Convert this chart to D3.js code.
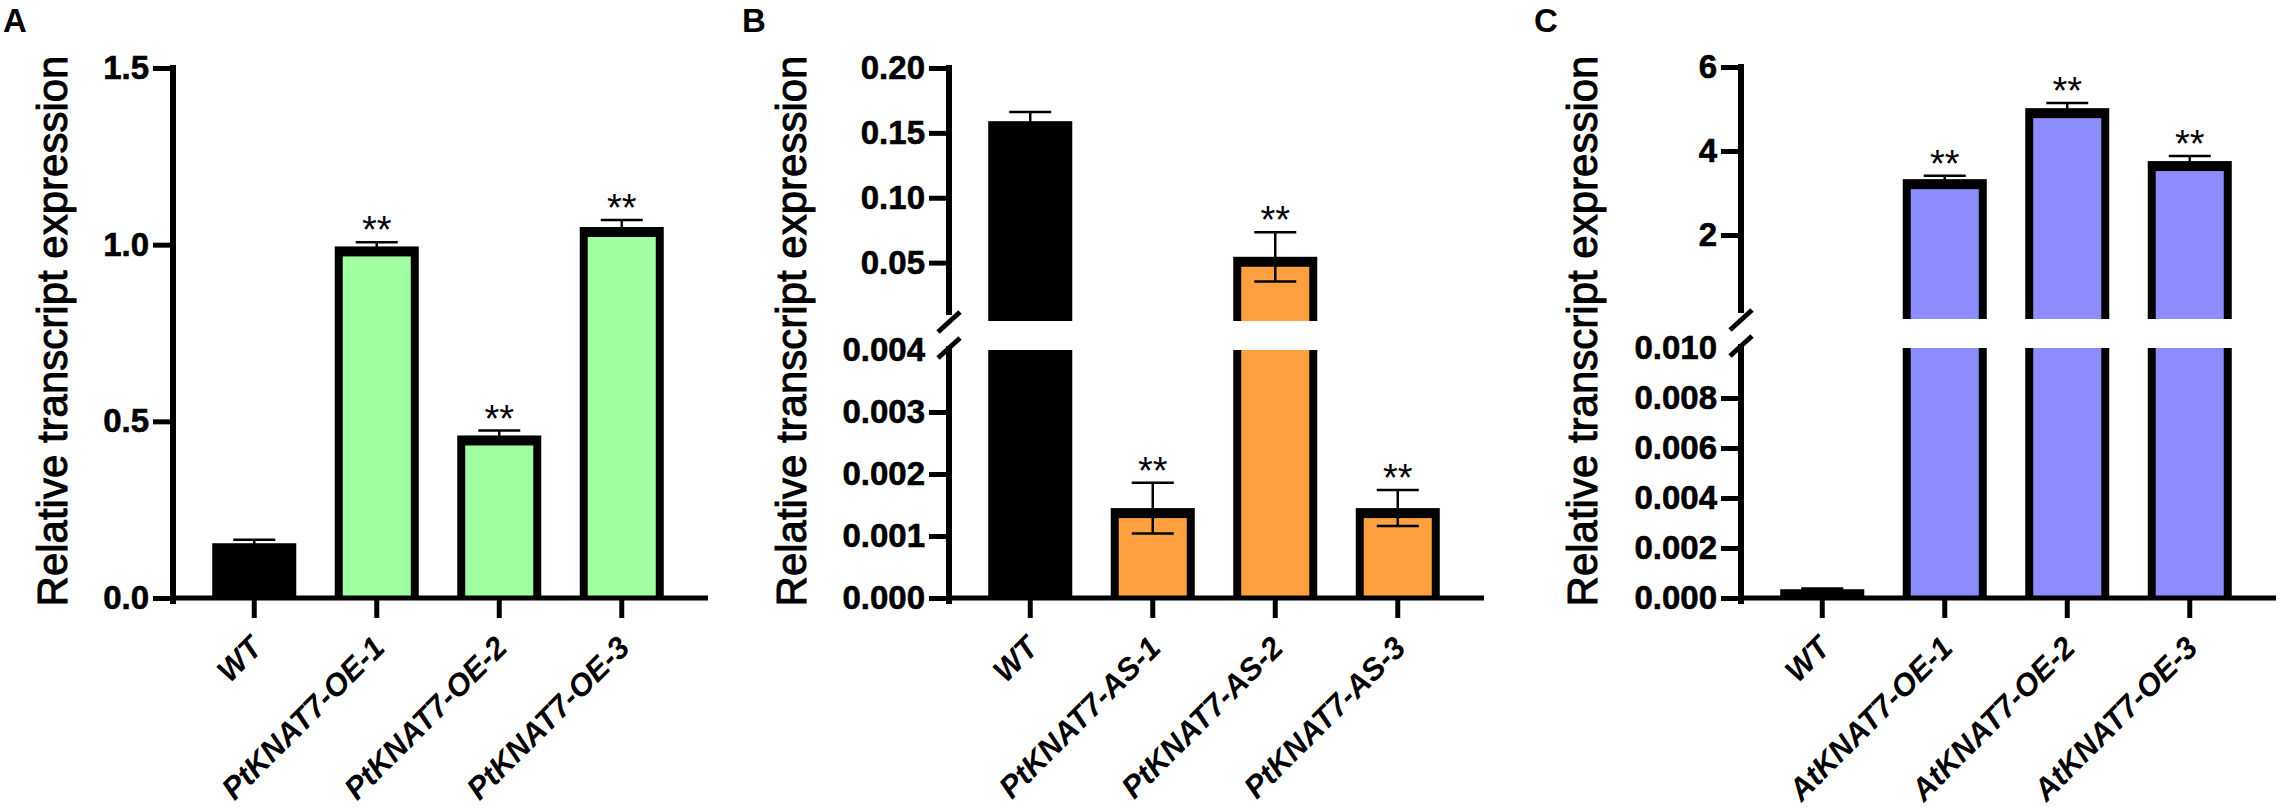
<!DOCTYPE html>
<html>
<head>
<meta charset="utf-8">
<script src="https://cdn.jsdelivr.net/npm/d3@7"></script>
<style>
  html, body { margin: 0; padding: 0; background: #fff; }
  svg { display: block; }
</style>
</head>
<body>
<div id="chart"></div>
<script>
// Panel A - PtKNAT7 overexpression
const catsA = ['WT', 'PtKNAT7-OE-1', 'PtKNAT7-OE-2', 'PtKNAT7-OE-3'];
const meansA = [0.155, 0.995, 0.46, 1.05];
const errsA = [0.01, 0.012, 0.014, 0.02];
const starsA = ['', '**', '**', '**'];
const ticksA = [0, 0.5, 1.0, 1.5];

// Panel B - PtKNAT7 antisense (broken axis)
const catsB = ['WT', 'PtKNAT7-AS-1', 'PtKNAT7-AS-2', 'PtKNAT7-AS-3'];
const meansB = [0.159, 0.00145, 0.0545, 0.00145];
const errsB = [0.007, 0.00041, 0.019, 0.00029];
const starsB = ['', '**', '**', '**'];
const ticksBLow = [0, 0.001, 0.002, 0.003, 0.004];
const ticksBHigh = [0.05, 0.10, 0.15, 0.20];

// Panel C - AtKNAT7 overexpression (broken axis)
const catsC = ['WT', 'AtKNAT7-OE-1', 'AtKNAT7-OE-2', 'AtKNAT7-OE-3'];
const meansC = [0.00035, 3.33, 5.02, 3.76];
const errsC = [0.00003, 0.08, 0.12, 0.12];
const starsC = ['', '**', '**', '**'];
const ticksCLow = [0, 0.002, 0.004, 0.006, 0.008, 0.010];
const ticksCHigh = [2, 4, 6];

const FONT = "'Liberation Sans', Arial, Helvetica, sans-serif";
const W = 2280, H = 812;
const BASE_Y = 598;
const AXIS_LEN = 535;

const panels = [
  {
    letter: 'A', letterX: 3, axisX: 173, titleX: 67,
    cats: catsA, means: meansA, errs: errsA, stars: starsA, color: '#a0ffa0',
    segments: [
      { domain: [0, 1.5], range: [BASE_Y, 68], ticks: ticksA, fmt: d3.format('.1f') },
    ],
  },
  {
    letter: 'B', letterX: 742, axisX: 949, titleX: 806,
    cats: catsB, means: meansB, errs: errsB, stars: starsB, color: '#ffa040',
    segments: [
      { domain: [0, 0.004], range: [BASE_Y, 350], ticks: ticksBLow, fmt: d3.format('.3f'), noTick: 0.004 },
      { domain: [0.005, 0.2], range: [321, 68], ticks: ticksBHigh, fmt: d3.format('.2f') },
    ],
  },
  {
    letter: 'C', letterX: 1534, axisX: 1741, titleX: 1597,
    cats: catsC, means: meansC, errs: errsC, stars: starsC, color: '#8c8cff',
    segments: [
      { domain: [0, 0.01], range: [BASE_Y, 348], ticks: ticksCLow, fmt: d3.format('.3f'), noTick: 0.01 },
      { domain: [0, 6], range: [319, 67], ticks: ticksCHigh, fmt: d3.format('d') },
    ],
  },
];

const svg = d3.select('#chart').append('svg')
  .attr('width', W).attr('height', H)
  .style('font-family', FONT);

svg.append('rect').attr('width', W).attr('height', H).attr('fill', '#fff');

function drawPanel(p) {
  const g = svg.append('g');
  const x0 = p.axisX + 20;

  // band scale: 84px bars on a 122.5px step
  const x = d3.scaleBand()
    .domain(p.cats)
    .range([x0, x0 + 490])
    .paddingInner(0.314)
    .paddingOuter(0.157);
  const bw = x.bandwidth();

  p.segments.forEach((seg) => {
    seg.scale = d3.scaleLinear().domain(seg.domain).range(seg.range);
  });

  // bars, one piece per axis segment
  p.segments.forEach((seg, i) => {
    const lowerMax = i > 0 ? p.segments[i - 1].domain[1] : -Infinity;
    p.cats.forEach((c, j) => {
      const v = p.means[j];
      if (v <= lowerMax) return;
      const realTop = v <= seg.domain[1];
      const yTop = seg.scale(Math.min(v, seg.domain[1]));
      const yBot = seg.range[0];
      const bx = x(c);
      g.append('rect')
        .attr('x', bx).attr('y', yTop)
        .attr('width', bw).attr('height', yBot - yTop)
        .attr('fill', '#000');
      if (j > 0) {
        const inTop = yTop + (realTop ? 10 : 0);
        g.append('rect')
          .attr('x', bx + 8).attr('y', inTop)
          .attr('width', bw - 16).attr('height', Math.max(0, yBot - inTop))
          .attr('fill', p.color);
      }
    });
  });

  // error bars and stars in the segment that holds the mean
  p.cats.forEach((c, j) => {
    const v = p.means[j], e = p.errs[j];
    const seg = p.segments.find((s, i) =>
      v <= s.domain[1] && (i === 0 || v > p.segments[i - 1].domain[1]));
    const cx = x(c) + bw / 2;
    const yHi = seg.scale(v + e), yLo = seg.scale(v - e);
    g.append('line').attr('x1', cx).attr('x2', cx).attr('y1', yHi).attr('y2', yLo)
      .attr('stroke', '#000').attr('stroke-width', 2.5);
    [yHi, yLo].forEach((yy) => {
      g.append('line').attr('x1', cx - bw / 4).attr('x2', cx + bw / 4)
        .attr('y1', yy).attr('y2', yy)
        .attr('stroke', '#000').attr('stroke-width', 2.5);
    });
    if (p.stars[j]) {
      g.append('text').attr('x', cx).attr('y', yHi + 1)
        .attr('text-anchor', 'middle')
        .attr('font-size', '38px')
        .text(p.stars[j]);
    }
  });

  // y axes
  p.segments.forEach((seg) => {
    const ax = g.append('g')
      .attr('transform', `translate(${p.axisX},0)`)
      .call(d3.axisLeft(seg.scale).tickValues(seg.ticks).tickSize(20).tickPadding(4).tickFormat(seg.fmt));
    ax.select('.domain').remove();
    ax.selectAll('.tick line').attr('stroke', '#000').attr('stroke-width', 5);
    ax.selectAll('.tick text')
      .attr('fill', '#000')
      .attr('font-family', FONT)
      .attr('font-size', '33px')
      .attr('font-weight', 'bold')
      .attr('stroke', '#000')
      .attr('stroke-width', 0.6);
    if (seg.noTick !== undefined) {
      ax.selectAll('.tick').filter((d) => Math.abs(d - seg.noTick) < 1e-9)
        .select('line').remove();
    }
  });

  // axis line(s) and break marks
  if (p.segments.length === 1) {
    const s = p.segments[0];
    g.append('line').attr('x1', p.axisX).attr('x2', p.axisX)
      .attr('y1', s.range[1] - 3).attr('y2', BASE_Y + 6)
      .attr('stroke', '#000').attr('stroke-width', 6);
  } else {
    const lo = p.segments[0], hi = p.segments[1];
    g.append('line').attr('x1', p.axisX).attr('x2', p.axisX)
      .attr('y1', hi.range[1] - 3).attr('y2', hi.range[0] - 6)
      .attr('stroke', '#000').attr('stroke-width', 6);
    g.append('line').attr('x1', p.axisX).attr('x2', p.axisX)
      .attr('y1', lo.range[1] - 4).attr('y2', BASE_Y + 6)
      .attr('stroke', '#000').attr('stroke-width', 6);
    [hi.range[0] + 1, lo.range[1] - 2].forEach((yy) => {
      g.append('line')
        .attr('x1', p.axisX - 11).attr('y1', yy + 10)
        .attr('x2', p.axisX + 11).attr('y2', yy - 10)
        .attr('stroke', '#000').attr('stroke-width', 5);
    });
  }

  // x axis
  const xa = g.append('g')
    .attr('transform', `translate(0,${BASE_Y})`)
    .call(d3.axisBottom(x).tickSize(20));
  xa.select('.domain').remove();
  xa.selectAll('.tick line').attr('stroke', '#000').attr('stroke-width', 5);
  xa.selectAll('.tick text')
    .attr('fill', '#000')
    .attr('font-family', FONT)
    .attr('font-size', '31px')
    .attr('font-weight', 'bold')
    .attr('font-style', 'italic')
    .attr('text-anchor', 'end')
    .attr('x', 0).attr('y', 0)
    .attr('dy', '0.35em')
    .attr('transform', 'translate(2,44) rotate(-45)');
  g.append('line')
    .attr('x1', p.axisX - 3).attr('x2', p.axisX + AXIS_LEN)
    .attr('y1', BASE_Y).attr('y2', BASE_Y)
    .attr('stroke', '#000').attr('stroke-width', 5);

  // y title
  g.append('text')
    .attr('transform', `translate(${p.titleX},331) rotate(-90)`)
    .attr('text-anchor', 'middle')
    .attr('font-size', '42px')
    .attr('fill', '#000')
    .attr('stroke', '#000')
    .attr('stroke-width', 1)
    .text('Relative transcript expression');

  // panel letter
  g.append('text')
    .attr('x', p.letterX).attr('y', 32)
    .attr('font-size', '33px')
    .attr('font-weight', 'bold')
    .text(p.letter);
}

panels.forEach(drawPanel);
</script>
</body>
</html>
